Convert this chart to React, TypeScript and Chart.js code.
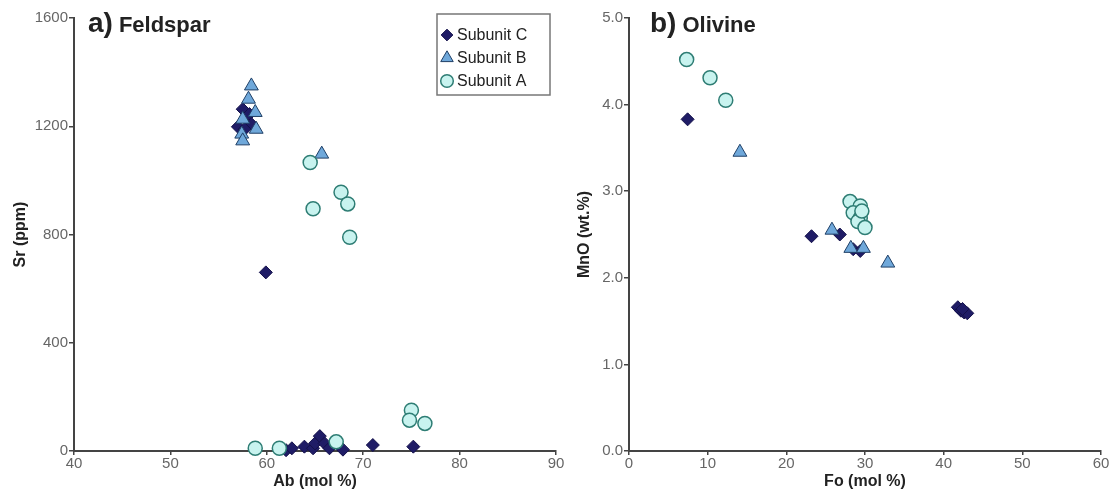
import React, { useEffect, useRef } from 'react';
import { Chart, registerables } from 'chart.js';
Chart.register(...registerables);

const FONT = '"Liberation Sans", Arial, Helvetica, sans-serif';

// ---- Feldspar (panel a) ----
const feldsparC_Ab = [57.0, 57.5, 58.2, 58.4, 57.7, 59.9, 62.0, 62.6, 63.9, 64.8, 65.0, 65.5, 66.0, 66.5, 67.9, 71.0, 75.2];
const feldsparC_Sr = [1198, 1263, 1245, 1208, 1189, 660, 3, 10, 16, 10, 28, 55, 28, 10, 5, 22, 16];
const feldsparB_Ab = [58.4, 58.1, 58.8, 57.5, 58.9, 57.4, 57.5, 65.7];
const feldsparB_Sr = [1349, 1300, 1251, 1226, 1189, 1171, 1146, 1097];
const feldsparA_Ab = [64.5, 67.7, 68.4, 64.8, 68.6, 75.0, 74.8, 76.4, 58.8, 61.3, 67.2];
const feldsparA_Sr = [1066, 956, 913, 895, 790, 151, 114, 102, 10, 10, 34];

// ---- Olivine (panel b) ----
const olivineC_Fo = [7.45, 23.2, 26.8, 28.5, 29.4, 41.8, 42.2, 42.6, 43.0, 42.4];
const olivineC_MnO = [3.83, 2.48, 2.5, 2.33, 2.31, 1.66, 1.62, 1.6, 1.59, 1.64];
const olivineB_Fo = [14.1, 25.8, 28.2, 29.8, 32.9];
const olivineB_MnO = [3.45, 2.55, 2.34, 2.34, 2.17];
const olivineA_Fo = [7.33, 10.3, 12.3, 28.1, 29.4, 28.5, 29.4, 29.1, 30.0, 29.6];
const olivineA_MnO = [4.52, 4.31, 4.05, 2.88, 2.83, 2.75, 2.69, 2.65, 2.58, 2.77];

// ---- Axis ticks ----
const feldsparXTicks = [40, 50, 60, 70, 80, 90];
const feldsparYTicks = [0, 400, 800, 1200, 1600];
const olivineXTicks = [0, 10, 20, 30, 40, 50, 60];
const olivineYTicks = [0, 1, 2, 3, 4, 5];

const seriesNames = ['Subunit C', 'Subunit B', 'Subunit A'];

const STYLE_C = { pointStyle: 'rectRot', radius: 6.5, fill: '#1f1c66', stroke: '#14114a', lw: 1 };
const STYLE_B = { pointStyle: 'triangle', radius: 8, fill: '#6fa8da', stroke: '#1f3f66', lw: 1 };
const STYLE_A = { pointStyle: 'circle', radius: 7, fill: '#c8f3ef', stroke: '#2e7d74', lw: 1.5 };
const STYLES = [STYLE_C, STYLE_B, STYLE_A];

const zip = (xs: number[], ys: number[]) => xs.map((x, i) => ({ x, y: ys[i] }));

function makeDataset(name: string, st: any, xs: number[], ys: number[], order: number) {
  return {
    label: name,
    data: zip(xs, ys),
    pointStyle: st.pointStyle,
    pointRadius: st.radius,
    pointBackgroundColor: st.fill,
    pointBorderColor: st.stroke,
    pointBorderWidth: st.lw,
    showLine: false,
    clip: false,
    order,
  };
}

const H = 485;
const PLOT_BOTTOM = 443;

function makeScales(
  xTicks: number[], yTicks: number[], xTitle: string, yTitle: string,
  yTitlePad: number, yFmt: (v: number) => string
) {
  const axisColor = '#444';
  const tickFont = { family: FONT, size: 15 };
  const titleFont = { family: FONT, size: 16, weight: 'bold' as const };
  return {
    x: {
      type: 'linear' as const,
      min: xTicks[0],
      max: xTicks[xTicks.length - 1],
      afterBuildTicks: (s: any) => { s.ticks = xTicks.map((v) => ({ value: v })); },
      afterFit: (s: any) => { s.height = H - PLOT_BOTTOM; },
      ticks: { color: '#666', font: tickFont, padding: 0, maxRotation: 0, autoSkip: false },
      grid: { drawOnChartArea: false, tickLength: 4, color: axisColor, lineWidth: 1.5 },
      border: { color: axisColor, width: 2 },
      title: { display: true, text: xTitle, color: '#222', font: titleFont, padding: { top: 0, bottom: 2 } },
    },
    y: {
      type: 'linear' as const,
      min: yTicks[0],
      max: yTicks[yTicks.length - 1],
      afterBuildTicks: (s: any) => { s.ticks = yTicks.map((v) => ({ value: v })); },
      afterFit: (s: any) => { s.width = 66; },
      ticks: { color: '#666', font: tickFont, padding: 1, autoSkip: false, callback: (v: any) => yFmt(Number(v)) },
      grid: { drawOnChartArea: false, tickLength: 5, color: axisColor, lineWidth: 1.5 },
      border: { color: axisColor, width: 2 },
      title: { display: true, text: yTitle, color: '#222', font: titleFont, padding: { top: yTitlePad, bottom: 0 } },
    },
  };
}

function drawMarker(ctx: CanvasRenderingContext2D, st: any, x: number, y: number) {
  const r = st.radius;
  ctx.save();
  ctx.beginPath();
  if (st.pointStyle === 'rectRot') {
    ctx.moveTo(x, y - r); ctx.lineTo(x + r, y); ctx.lineTo(x, y + r); ctx.lineTo(x - r, y); ctx.closePath();
  } else if (st.pointStyle === 'triangle') {
    for (let k = 0; k < 3; k++) {
      const a = (k * 2 * Math.PI) / 3;
      const px = x + Math.sin(a) * r, py = y - Math.cos(a) * r;
      if (k === 0) ctx.moveTo(px, py); else ctx.lineTo(px, py);
    }
    ctx.closePath();
  } else {
    ctx.arc(x, y, r, 0, Math.PI * 2);
  }
  ctx.fillStyle = st.fill;
  ctx.fill();
  ctx.lineWidth = st.lw;
  ctx.strokeStyle = st.stroke;
  ctx.stroke();
  ctx.restore();
}

function titlePlugin(letter: string, word: string, x: number, baseline: number) {
  return {
    id: 'panelTitle',
    afterDraw(chart: any) {
      const ctx: CanvasRenderingContext2D = chart.ctx;
      ctx.save();
      ctx.fillStyle = '#222';
      ctx.textBaseline = 'alphabetic';
      ctx.textAlign = 'left';
      ctx.font = `bold 28px ${FONT}`;
      ctx.fillText(letter, x, baseline);
      const w = ctx.measureText(letter).width;
      ctx.font = `bold 22px ${FONT}`;
      ctx.fillText(word, x + w + 6, baseline);
      ctx.restore();
    },
  };
}

const legendPlugin = {
  id: 'boxLegend',
  afterDraw(chart: any) {
    const ctx: CanvasRenderingContext2D = chart.ctx;
    const bx = 429, by = 6, bw = 113, bh = 81;
    ctx.save();
    ctx.fillStyle = '#ffffff';
    ctx.fillRect(bx, by, bw, bh);
    ctx.strokeStyle = '#777';
    ctx.lineWidth = 1.5;
    ctx.strokeRect(bx, by, bw, bh);
    const rows = [27, 50, 73];
    seriesNames.forEach((name, i) => {
      const st = { ...STYLES[i], radius: STYLES[i].radius * 0.9 };
      drawMarker(ctx, st, 439, rows[i]);
      ctx.fillStyle = '#222';
      ctx.font = `16px ${FONT}`;
      ctx.textBaseline = 'middle';
      ctx.textAlign = 'left';
      ctx.fillText(name, 449, rows[i] + 1);
    });
    ctx.restore();
  },
};

function ScatterPanel(props: { width: number; height: number; left: number; config: any }) {
  const ref = useRef<HTMLCanvasElement | null>(null);
  useEffect(() => {
    if (!ref.current) return;
    const chart = new Chart(ref.current, props.config);
    return () => chart.destroy();
  }, []);
  return (
    <canvas
      ref={ref}
      width={props.width}
      height={props.height}
      style={{ position: 'absolute', left: props.left, top: 0, width: props.width, height: props.height }}
    />
  );
}

const feldsparConfig = {
  type: 'scatter',
  data: {
    datasets: [
      makeDataset(seriesNames[0], STYLE_C, feldsparC_Ab, feldsparC_Sr, 3),
      makeDataset(seriesNames[1], STYLE_B, feldsparB_Ab, feldsparB_Sr, 2),
      makeDataset(seriesNames[2], STYLE_A, feldsparA_Ab, feldsparA_Sr, 1),
    ],
  },
  options: {
    responsive: false,
    animation: false,
    events: [],
    layout: { padding: { left: 0, right: 10, top: 9, bottom: 0 } },
    plugins: { legend: { display: false }, tooltip: { enabled: false } },
    scales: makeScales(feldsparXTicks, feldsparYTicks, 'Ab (mol %)', 'Sr (ppm)', 3.4, (v) => String(v)),
  },
  plugins: [titlePlugin('a)', 'Feldspar', 80, 24), legendPlugin],
};

const olivineConfig = {
  type: 'scatter',
  data: {
    datasets: [
      makeDataset(seriesNames[0], STYLE_C, olivineC_Fo, olivineC_MnO, 3),
      makeDataset(seriesNames[1], STYLE_B, olivineB_Fo, olivineB_MnO, 2),
      makeDataset(seriesNames[2], STYLE_A, olivineA_Fo, olivineA_MnO, 1),
    ],
  },
  options: {
    responsive: false,
    animation: false,
    events: [],
    layout: { padding: { left: 0, right: 10, top: 9, bottom: 0 } },
    plugins: { legend: { display: false }, tooltip: { enabled: false } },
    scales: makeScales(olivineXTicks, olivineYTicks, 'Fo (mol %)', 'MnO (wt.%)', 11.5, (v) => v.toFixed(1)),
  },
  plugins: [titlePlugin('b)', 'Olivine', 87, 24)],
};

export default function App() {
  return (
    <div style={{ position: 'fixed', left: 8, top: 8, width: 1107, height: H }}>
      <ScatterPanel width={558} height={H} left={0} config={feldsparConfig} />
      <ScatterPanel width={548} height={H} left={555} config={olivineConfig} />
    </div>
  );
}
